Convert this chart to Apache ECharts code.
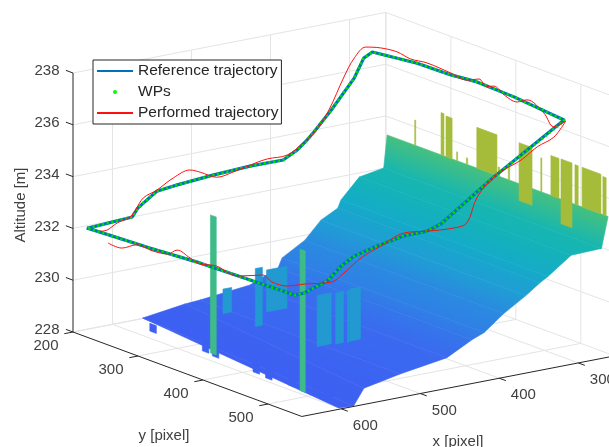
<!DOCTYPE html>
<html><head><meta charset="utf-8">
<script src="https://cdn.jsdelivr.net/npm/echarts@6/dist/echarts.min.js"></script>
<style>html,body{margin:0;padding:0;background:#fff}#c{width:609px;height:447px}</style>
</head><body><div id="c"></div>
<script>
// axis ranges and ticks
const xRange=[254,650], yRange=[200,552], zRange=[228,238];
const xTicks=[300,400,500,600], yTicks=[200,300,400,500], zTicks=[228,230,232,234,236,238];
// reference trajectory
const refX=[645,589,582,558,532,487,440,398,380,370,359,337,308,296,285,295,295,295,295,295,304,371,393,460,477.5,507,541,570,586,604,633,645,645,645,645,645];
const refY=[217,217,217,217,217,217,217,217,217,217,217,217,217,217,217,298,350,390,447,524,535,535,535,535,535,535,535,535,535,535,535,535,471,389,312,215];
const refZ=[232.14,232.24,232.54,233.05,233.14,233.25,233.32,233.31,233.59,233.84,234.16,234.88,235.94,236.64,236.81,237.19,237.22,237.32,237.27,237.09,237.21,235.98,235.57,234.15,233.98,233.97,233.78,233.56,233.28,232.8,232.51,232.5,232.45,232.39,232.25,232.13];
// performed trajectory
const perfX=[645,645,645,645,645,645,645,645,645,645,645,645,645,645,632,598,583,561,536,507,477.5,443,427,414,390,358.5,338,317,302,295,295,295,295,295,295,295,295,295,295,295,295,295,295,295,308,321,340,356,371.5,393,418,433.5,461,482,503,516,537,558,575,585,592,608,621,630];
const perfY=[248,269,292,317,340,354,374,389,415,440,455,486,500,523,535,535,535,535,535,535,535,535,535,535,535,535,535,535,535,508,493,467,452,432,416,405,393,375,350,313,288,267,242,219,217,217,217,217,217,217,217,217,217,217,217,217,217,217,217,217,217,217,217,217];
const perfZ=[231.85,231.85,232.19,232.18,232.28,232.56,232.44,232.35,232.51,232.39,232.5,232.82,232.68,232.74,232.85,232.73,232.98,233.44,233.75,234.08,233.98,233.9,234,234.92,235.63,236.02,236.41,236.66,237.19,236.68,237.07,237.34,237.12,237.2,237.4,237.27,237.46,237.25,237.29,237.34,237.26,237.34,237.26,237.08,236.71,236.06,234.9,234.22,233.85,233.47,233.47,233.4,233.22,233.14,233.46,233.62,233.44,233.09,232.89,232.48,232.25,232.12,231.92,231.93];
// terrain cross-sections, far to near
const terrXL=[310,311,337,357,360,379,396,421.6,425,455.6,514,530,570,570];
const terrYL=[270,266,260,256,255,252,248,244,242,236,230,226,210,210];
const terrZL=[234.25,232.94,232.69,231.88,231.58,231.2,230.49,229.92,229.53,229,228.71,228.61,228.16,228.16];
const terrXR=[310,311,337,357,360,379,396,421.6,425,455.6,514,550,605,610];
const terrYR=[610,601,586,574.5,566,567,554,555,540.5,539,538,526,577,560];
const terrZR=[234.25,232.94,232.69,231.88,231.58,231.2,230.49,229.92,229.53,229,228.71,228.26,228.37,228.17];
// spikes at the far terrain edge
const spikeX=[310,310,310,310,310,310,310,310,310,310,310,310,310,310,310];
const spikeY0=[312.5,353,360.6,377,392,408,441,456.5,473,506.5,522,537.5,559,570,602];
const spikeY1=[314,357.5,370,378.5,394,439,443,458.5,493,508,534.5,554.5,564,599,607];
const spikeBase=[234.25,234.25,234.25,234.25,234.25,234.25,234.25,234.25,233.6,234.25,234.25,233.3,234.25,234.25,234.25];
const spikeTop=[235.22,235.88,235.82,234.59,234.5,235.82,234.6,234.79,235.83,235.56,235.79,235.8,235.78,235.78,235.72];
// tall pillars
const pillarX=[583,593], pillarY0=[330,480], pillarY1=[339,488], pillarTop=[233.33,233.46];
// low blocks along the near edge
const blockX=[585,588,590,593,590,591,593,584];
const blockY=[325,344,409,432,463,504,524,243];
const blockTop=[228.35,228.35,228.35,228.35,228.35,228.35,228.35,228.3];
// walls standing on the terrain
const wallX0=[552,481,458,481,468,461,444], wallX1=[563,490,484,499,478,463,458];
const wallY=[325,286,296,392,395,395,392];
const wallBase=[229.35,228.06,228.68,228.33,228.33,228.3,228.29];
const wallTop=[230.3,230.3,230.3,230.3,230.3,230.3,230.3];
// height colour scale
const colourZ=[228.2,229,229.9,230.5,231.2,231.9,232.7,232.94,234.25,235.8];
const colourHex=['#3d5ff2','#3a6af0','#2f80e6','#2a8ae0','#1f9ed4','#14abc8','#14b3b8','#18b6b0','#46c07e','#a4bc3a'];
const legendNames=['Reference trajectory','WPs','Performed trajectory'];

// oblique projection of the MATLAB box into the picture plane
function P(x,y,z){return [73+.65*(y-200)+.79*(650-x), 332+.24*(y-200)-.153*(650-x)-25.9*(z-228)];}
function hex(c){return [1,3,5].map(i=>parseInt(c.substr(i,2),16));}
function col(z){
  let i=0; while(i<colourZ.length-2&&z>colourZ[i+1])i++;
  let t=Math.max(0,Math.min(1,(z-colourZ[i])/(colourZ[i+1]-colourZ[i])));
  let a=hex(colourHex[i]),b=hex(colourHex[i+1]);
  return 'rgb('+a.map((v,k)=>Math.round(v+(b[k]-v)*t)).join(',')+')';
}
const AX='#262626',GRID='#e4e4e4',TXT='#404040',FONT='15px "Liberation Sans",Arial,sans-serif',WALL='#2399d2',PILLAR='#3fbb8a',OLIVE='#a4bc3a';
function seg(api,a,b,color,w){const p=api.coord(a),q=api.coord(b);
  return {type:'line',shape:{x1:p[0],y1:p[1],x2:q[0],y2:q[1]},style:{stroke:color,lineWidth:w||1}};}
function poly(api,pts,fill,stroke){return {type:'polygon',shape:{points:pts.map(p=>api.coord(p))},style:{fill:fill,stroke:stroke||fill,lineWidth:.6}};}
function txt(api,p,s,opts){const c=api.coord(p);
  return Object.assign({type:'text',x:c[0],y:c[1],style:{text:s,fill:TXT,font:FONT,align:'center',verticalAlign:'middle'}},opts||{});}
function customOnce(name,fn,extra){return Object.assign({type:'custom',name:name,data:[0],silent:true,clip:false,animation:false,
  renderItem:(p,api)=>({type:'group',children:fn(api)})},extra||{});}

const [xa,xb]=xRange,[ya,yb]=yRange,[za,zb]=zRange;
function gridLines(api){const e=[];
  zTicks.forEach(z=>{e.push(seg(api,P(xb,ya,z),P(xa,ya,z),GRID));e.push(seg(api,P(xa,ya,z),P(xa,yb,z),GRID));});
  xTicks.forEach(x=>{e.push(seg(api,P(x,ya,za),P(x,ya,zb),GRID));e.push(seg(api,P(x,ya,za),P(x,yb,za),GRID));});
  yTicks.forEach(y=>{e.push(seg(api,P(xa,y,za),P(xa,y,zb),GRID));e.push(seg(api,P(xa,y,za),P(xb,y,za),GRID));});
  e.push(seg(api,P(xa,ya,za),P(xa,ya,zb),GRID));
  return e;}
function axes(api){const e=[];
  e.push(seg(api,P(xb,ya,za),P(xb,ya,zb),AX));
  e.push(seg(api,P(xb,ya,za),P(xb,yb,za),AX));
  e.push(seg(api,P(xb,yb,za),P(xa,yb,za),AX));
  zTicks.forEach(z=>{e.push(seg(api,P(xb,ya,z),P(xb,ya-11,z),AX));
    const p=P(xb,ya,z);e.push(txt(api,[p[0]-26,p[1]-2],String(z)));});
  yTicks.forEach(y=>{e.push(seg(api,P(xb,y,za),P(xb+11,y,za),AX));
    const p=P(xb,y,za);e.push(txt(api,[p[0]-27,p[1]+14],String(y)));});
  xTicks.forEach(x=>{e.push(seg(api,P(x,yb,za),P(x,yb+10,za),AX));
    const p=P(x,yb,za);e.push(txt(api,[p[0]+24,p[1]+17],String(x)));});
  e.push(txt(api,[21,205],'Altitude [m]',{rotation:Math.PI/2}));
  e.push(txt(api,[164,436],'y [pixel]'));
  e.push(txt(api,[458,442],'x [pixel]'));
  return e;}
function terrain(api){const e=[];
  for(let i=0;i<terrXL.length-1;i++){
    const a=P(terrXL[i],terrYL[i],terrZL[i]),b=P(terrXR[i],terrYR[i],terrZR[i]),
          c=P(terrXR[i+1],terrYR[i+1],terrZR[i+1]),d=P(terrXL[i+1],terrYL[i+1],terrZL[i+1]);
    const m1=api.coord([(a[0]+b[0])/2,(a[1]+b[1])/2]),m2=api.coord([(c[0]+d[0])/2,(c[1]+d[1])/2]);
    const dx=b[0]-a[0],dy=b[1]-a[1],L=dx*dx+dy*dy;
    // gradient runs across the section, from this section to the next
    const t=((m2[0]-m1[0])*dx+(m2[1]-m1[1])*dy)/L;
    const g={type:'linear',global:true,x:m1[0],y:m1[1],x2:m2[0]-t*dx,y2:m2[1]-t*dy,
      colorStops:[{offset:0,color:col((terrZL[i]+terrZR[i])/2)},{offset:1,color:col((terrZL[i+1]+terrZR[i+1])/2)}]};
    e.push(poly(api,[a,b,c,d],g));
  }
  blockX.forEach((x,i)=>{const c=col(blockTop[i]);
    e.push(poly(api,[P(x,blockY[i]-5,blockTop[i]),P(x,blockY[i]+5,blockTop[i]),P(x,blockY[i]+5,za),P(x,blockY[i]-5,za)],c));});
  return e;}
function spikes(api){const e=[];
  spikeX.forEach((x,i)=>{
    e.push(poly(api,[P(x,spikeY0[i],spikeTop[i]),P(x,spikeY1[i],spikeTop[i]),P(x,spikeY1[i],spikeBase[i]),P(x,spikeY0[i],spikeBase[i])],OLIVE));});
  wallY.forEach((y,i)=>{
    e.push(poly(api,[P(wallX0[i],y,wallTop[i]),P(wallX1[i],y,wallTop[i]),P(wallX1[i],y,wallBase[i]),P(wallX0[i],y,wallBase[i])],WALL));});
  pillarX.forEach((x,i)=>{
    e.push(poly(api,[P(x,pillarY0[i],pillarTop[i]),P(x,pillarY1[i],pillarTop[i]),P(x,pillarY1[i],za),P(x,pillarY0[i],za)],PILLAR));});
  return e;}
function pts(X,Y,Z){return X.map((x,i)=>P(x,Y[i],Z[i]));}
const refPts=pts(refX,refY,refZ), perfPts=pts(perfX,perfY,perfZ);

const chart=echarts.init(document.getElementById('c'),null,{renderer:'canvas'});
chart.setOption({
  animation:false,backgroundColor:'#fff',
  grid:{left:0,right:0,top:0,bottom:0},
  xAxis:{type:'value',min:0,max:609,show:false},
  yAxis:{type:'value',min:0,max:447,inverse:true,show:false},
  legend:{orient:'vertical',left:93,top:60,selectedMode:false,backgroundColor:'#fff',borderColor:AX,borderWidth:1,z:20,
    padding:[3,3,3,3],itemWidth:36,itemHeight:4,itemGap:5,
    textStyle:{color:'#262626',fontSize:15.5,fontFamily:'"Liberation Sans",Arial,sans-serif'},
    data:[{name:legendNames[0],itemStyle:{opacity:0}},{name:legendNames[1],icon:'circle'},{name:legendNames[2],itemStyle:{opacity:0}}]},
  series:[
    customOnce('grid',gridLines,{z:1}),
    customOnce('terrain',terrain,{z:2}),
    customOnce('spikes',spikes,{z:3}),
    customOnce('axes',axes,{z:4}),
    {type:'line',name:legendNames[0],z:5,data:refPts,symbol:'none',silent:true,clip:false,lineStyle:{color:'#0072bd',width:3.2},itemStyle:{color:'#0072bd'}},
    customOnce(legendNames[1],api=>[{type:'polyline',shape:{points:refPts.map(p=>api.coord(p))},style:{fill:null,stroke:'#00dd00',lineWidth:2.8,lineDash:[2.2,2.6]}}],{z:6,itemStyle:{color:'#00ff00'}}),
    {type:'line',name:legendNames[2],z:7,data:perfPts,symbol:'none',silent:true,clip:false,smooth:.35,lineStyle:{color:'#ff1010',width:1},itemStyle:{color:'#ff0000'}}
  ]
});
</script></body></html>
